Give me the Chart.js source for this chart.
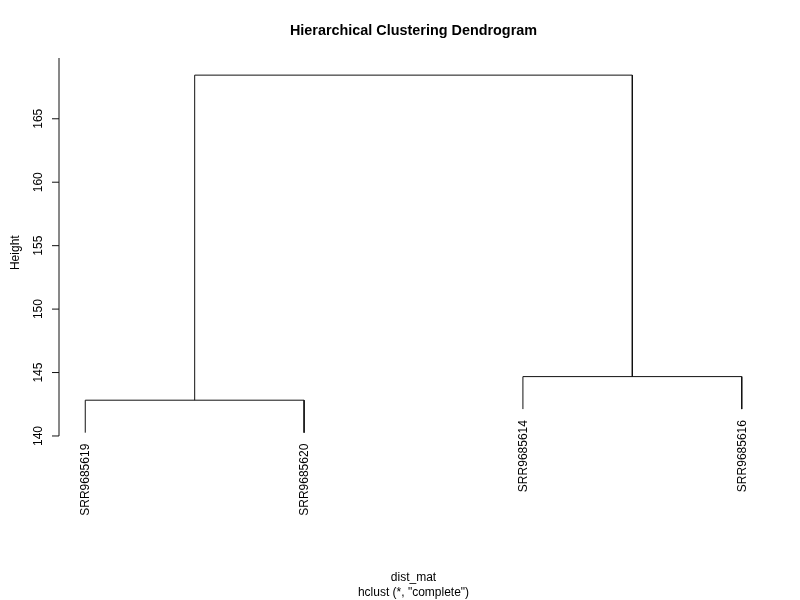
<!DOCTYPE html>
<html>
<head>
<meta charset="utf-8">
<script src="https://cdn.jsdelivr.net/npm/chart.js@4"></script>
<style>
  html, body { margin: 0; padding: 0; background: #fff; }
  canvas { display: block; }
</style>
</head>
<body>
<canvas id="c" width="800" height="600"></canvas>
<script>
// ---- data ----
const leafLabels = ['SRR9685619', 'SRR9685620', 'SRR9685614', 'SRR9685616'];
const leafPositions = [1, 2, 3, 4];
const leafBottoms = [140.26, 140.26, 142.12, 142.12];
// R-style merge matrix: negative = leaf index, positive = earlier merge
const merges = [[-1, -2], [-3, -4], [1, 2]];
const mergeHeights = [142.82, 144.68, 168.44];
const yTicks = [140, 145, 150, 155, 160, 165];
const titleText = 'Hierarchical Clustering Dendrogram';
const xLabel = 'dist_mat';
const subLabel = 'hclust (*, "complete")';
const yLabel = 'Height';

// ---- build segments ----
const nodeX = [];
const nodeBottom = (ref) => ref < 0 ? leafBottoms[-ref - 1] : mergeHeights[ref - 1];
const nodeXof = (ref) => ref < 0 ? leafPositions[-ref - 1] : nodeX[ref - 1];
const datasets = merges.map((m, i) => {
  const xa = nodeXof(m[0]), xb = nodeXof(m[1]);
  nodeX.push((xa + xb) / 2);
  const h = mergeHeights[i];
  return {
    data: [
      { x: xa, y: nodeBottom(m[0]) },
      { x: xa, y: h },
      { x: xb, y: h },
      { x: xb, y: nodeBottom(m[1]) }
    ],
    showLine: true,
    borderColor: '#111',
    borderWidth: 1,
    pointRadius: 0,
    tension: 0,
    fill: false
  };
});

const FONT = '"Liberation Sans", Arial, Helvetica, sans-serif';

const decor = {
  id: 'decor',
  afterDraw(chart) {
    const ctx = chart.ctx;
    const ys = chart.scales.y, xs = chart.scales.x;
    const area = chart.chartArea;
    ctx.save();
    ctx.strokeStyle = '#111';
    ctx.fillStyle = '#000';
    ctx.lineWidth = 1;
    // y axis line
    const axX = area.left;
    ctx.beginPath();
    ctx.moveTo(axX, ys.getPixelForValue(yTicks[0]));
    ctx.lineTo(axX, area.top);
    ctx.stroke();
    // ticks + labels
    ctx.font = '12px ' + FONT;
    yTicks.forEach(v => {
      const py = ys.getPixelForValue(v);
      ctx.beginPath();
      ctx.moveTo(axX, py);
      ctx.lineTo(axX - 7, py);
      ctx.stroke();
      ctx.save();
      ctx.translate(axX - 17, py);
      ctx.rotate(-Math.PI / 2);
      ctx.textAlign = 'center';
      ctx.textBaseline = 'alphabetic';
      ctx.fillText(String(v), 0, 0);
      ctx.restore();
    });
    // leaf labels
    leafLabels.forEach((lab, i) => {
      const px = xs.getPixelForValue(leafPositions[i]);
      const py = ys.getPixelForValue(leafBottoms[i]);
      ctx.save();
      ctx.translate(px + 4, py + 11);
      ctx.rotate(-Math.PI / 2);
      ctx.textAlign = 'right';
      ctx.textBaseline = 'alphabetic';
      ctx.fillText(lab, 0, 0);
      ctx.restore();
    });
    // y label
    ctx.save();
    ctx.translate(19, (area.top + area.bottom) / 2);
    ctx.rotate(-Math.PI / 2);
    ctx.textAlign = 'center';
    ctx.textBaseline = 'alphabetic';
    ctx.fillText(yLabel, 0, 0);
    ctx.restore();
    // x labels
    const cx = (area.left + area.right) / 2;
    ctx.textAlign = 'center';
    ctx.textBaseline = 'alphabetic';
    ctx.fillText(xLabel, cx, 581);
    ctx.fillText(subLabel, cx, 596);
    // title
    ctx.font = 'bold 14.4px ' + FONT;
    ctx.fillText(titleText, cx, 35);
    ctx.restore();
  }
};

new Chart(document.getElementById('c'), {
  type: 'scatter',
  data: { datasets },
  options: {
    responsive: false,
    animation: false,
    layout: { padding: { left: 59, right: 32, top: 58, bottom: 152.6 } },
    plugins: { legend: { display: false }, tooltip: { enabled: false }, title: { display: false } },
    scales: {
      x: { type: 'linear', min: 0.88, max: 4.12, display: false },
      y: { type: 'linear', min: 139.1, max: 169.79, display: false }
    }
  },
  plugins: [decor]
});
</script>
</body>
</html>
